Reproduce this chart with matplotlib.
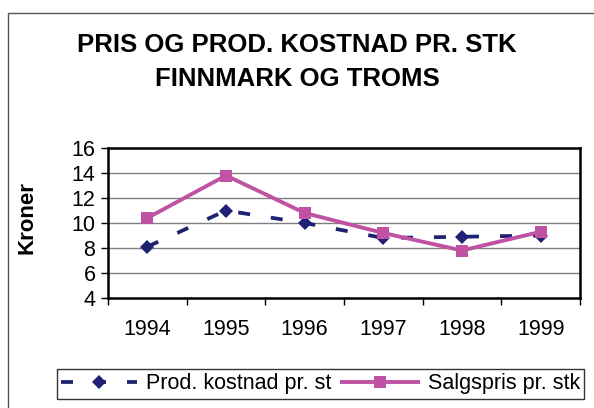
import matplotlib
matplotlib.use("Agg")
import matplotlib.pyplot as plt
from matplotlib.patches import Rectangle

years = ["1994", "1995", "1996", "1997", "1998", "1999"]
prod_kostnad = [8.1, 11.0, 10.0, 8.8, 8.9, 9.0]
salgspris = [10.4, 13.8, 10.8, 9.2, 7.8, 9.3]
yticks = [4, 6, 8, 10, 12, 14, 16]

plt.rcParams['font.family'] = ['Liberation Sans', 'DejaVu Sans']

fig = plt.figure(figsize=(5.94, 4.08), dpi=100)
fig.patch.set_facecolor('white')

# outer chart frame (extends past right/bottom edges)
fig.patches.append(Rectangle((8/594, -0.1), 1.2, 1 - 13/408 + 0.1, transform=fig.transFigure,
                             fill=False, edgecolor='#555555', linewidth=1.0))

ax = fig.add_axes([108/594, 1 - 298/408, (580 - 108)/594, (298 - 148)/408])
x = list(range(len(years)))
ax.plot(x, prod_kostnad, color='#1F2272', linewidth=2.7, dashes=(3.2, 5.6),
        marker='D', markersize=7, markeredgewidth=0, label='Prod. kostnad pr. st')
ax.plot(x, salgspris, color='#BF52A2', linewidth=2.8,
        marker='s', markersize=8, markeredgewidth=0, label='Salgspris pr. stk')

ax.set_xlim(-0.5, len(years) - 0.5)
ax.set_ylim(4, 16)
ax.set_yticks(yticks)
ax.set_yticklabels([str(v) for v in yticks], fontsize=15.5)
ax.set_xticks([i - 0.5 for i in range(len(years) + 1)])
ax.set_xticklabels([])
ax.set_xticks(x, minor=True)
ax.set_xticklabels(years, minor=True, fontsize=15.5)
ax.tick_params(axis='x', which='minor', length=0, pad=15)
ax.tick_params(axis='x', which='major', length=5, width=1, direction='out')
ax.tick_params(axis='y', length=5, width=1, direction='out', pad=4)
ax.grid(axis='y', color='#808080', linewidth=1.0)
ax.set_axisbelow(True)
for s in ax.spines.values():
    s.set_linewidth(1.8)
    s.set_color('black')

fig.text(27/594, 1 - 218/408, 'Kroner', rotation=90, fontsize=16, fontweight='bold',
         ha='center', va='center')
fig.text(0.5, 1 - 44.5/408, 'PRIS OG PROD. KOSTNAD PR. STK', fontsize=18.5, fontweight='bold',
         ha='center', va='center')
fig.text(0.5, 1 - 79/408, 'FINNMARK OG TROMS', fontsize=18.5, fontweight='bold',
         ha='center', va='center')

leg = fig.legend(loc='upper left', bbox_to_anchor=(57/594, 1 - 369/408), ncol=2,
                 fontsize=15.5, frameon=True, fancybox=False, edgecolor='black',
                 handlelength=3.5, columnspacing=0.5, handletextpad=0.45,
                 borderpad=0.2, borderaxespad=0)
leg.get_frame().set_linewidth(1.0)

fig.savefig('out.png', dpi=100)
